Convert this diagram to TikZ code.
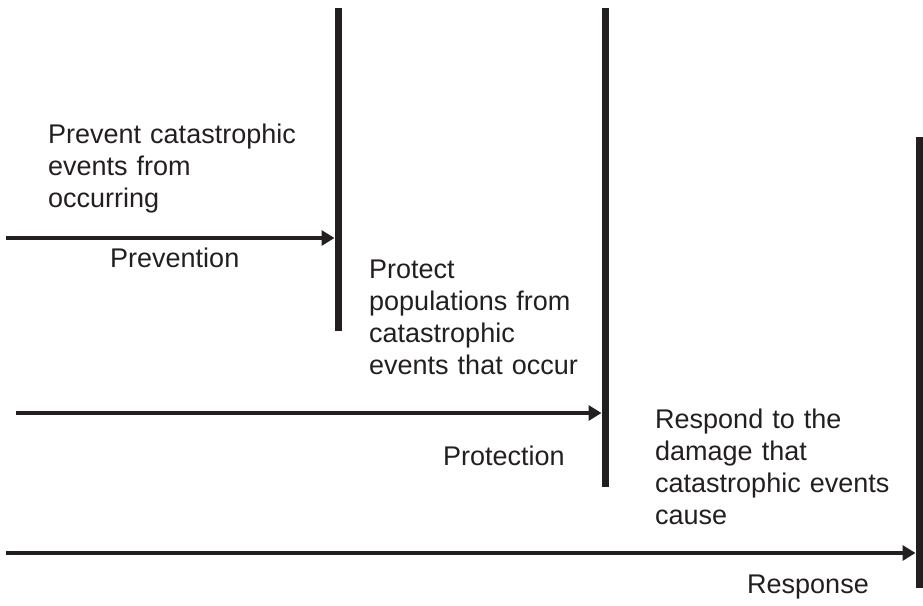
\documentclass[tikz,border=0pt]{standalone}
\usepackage{fontspec}
\setmainfont{Liberation Sans}
\usetikzlibrary{arrows.meta}
\definecolor{ink}{HTML}{231F20}
\tikzset{
  barline/.style={draw=ink, line width=7pt},
  flowarrow/.style={draw=ink, line width=4.5pt, -{Triangle[length=13pt,width=15pt]}},
  txt/.style={anchor=base west, inner sep=0pt, text=ink, align=left,
    font=\fontsize{27pt}{32pt}\selectfont},
}
\begin{document}
\begin{tikzpicture}[x=1pt,y=-1pt]
\useasboundingbox (0,0) rectangle (923,605);
% bars
\coordinate (b1t) at (338,8);   \coordinate (b1b) at (338,331);
\coordinate (b2t) at (605,8);   \coordinate (b2b) at (605,487);
\coordinate (b3t) at (919,137); \coordinate (b3b) at (919,588);
\draw[barline] (b1t) -- (b1b);
\draw[barline] (b2t) -- (b2b);
\draw[barline] (b3t) -- (b3b);
% arrows
\coordinate (a1s) at (6,238);  \coordinate (a1e) at (334.5,238);
\coordinate (a2s) at (16,413); \coordinate (a2e) at (601.5,413);
\coordinate (a3s) at (6,553);  \coordinate (a3e) at (915.5,553);
\draw[flowarrow] (a1s) -- (a1e);
\draw[flowarrow] (a2s) -- (a2e);
\draw[flowarrow] (a3s) -- (a3e);
% texts
\node[txt, text width=270pt] (t1) at (48,143) {Prevent catastrophic\\events from\\occurring};
\node[txt] (l1) at (110,267) {Prevention};
\node[txt, text width=230pt] (t2) at (369,278) {Protect\\populations from\\catastrophic\\events that occur};
\node[txt] (l2) at (443,465) {Protection};
\node[txt, text width=260pt] (t3) at (655,428) {Respond to the\\damage that\\catastrophic events\\cause};
\node[txt] (l3) at (747,593) {Response};
\end{tikzpicture}
\end{document}
